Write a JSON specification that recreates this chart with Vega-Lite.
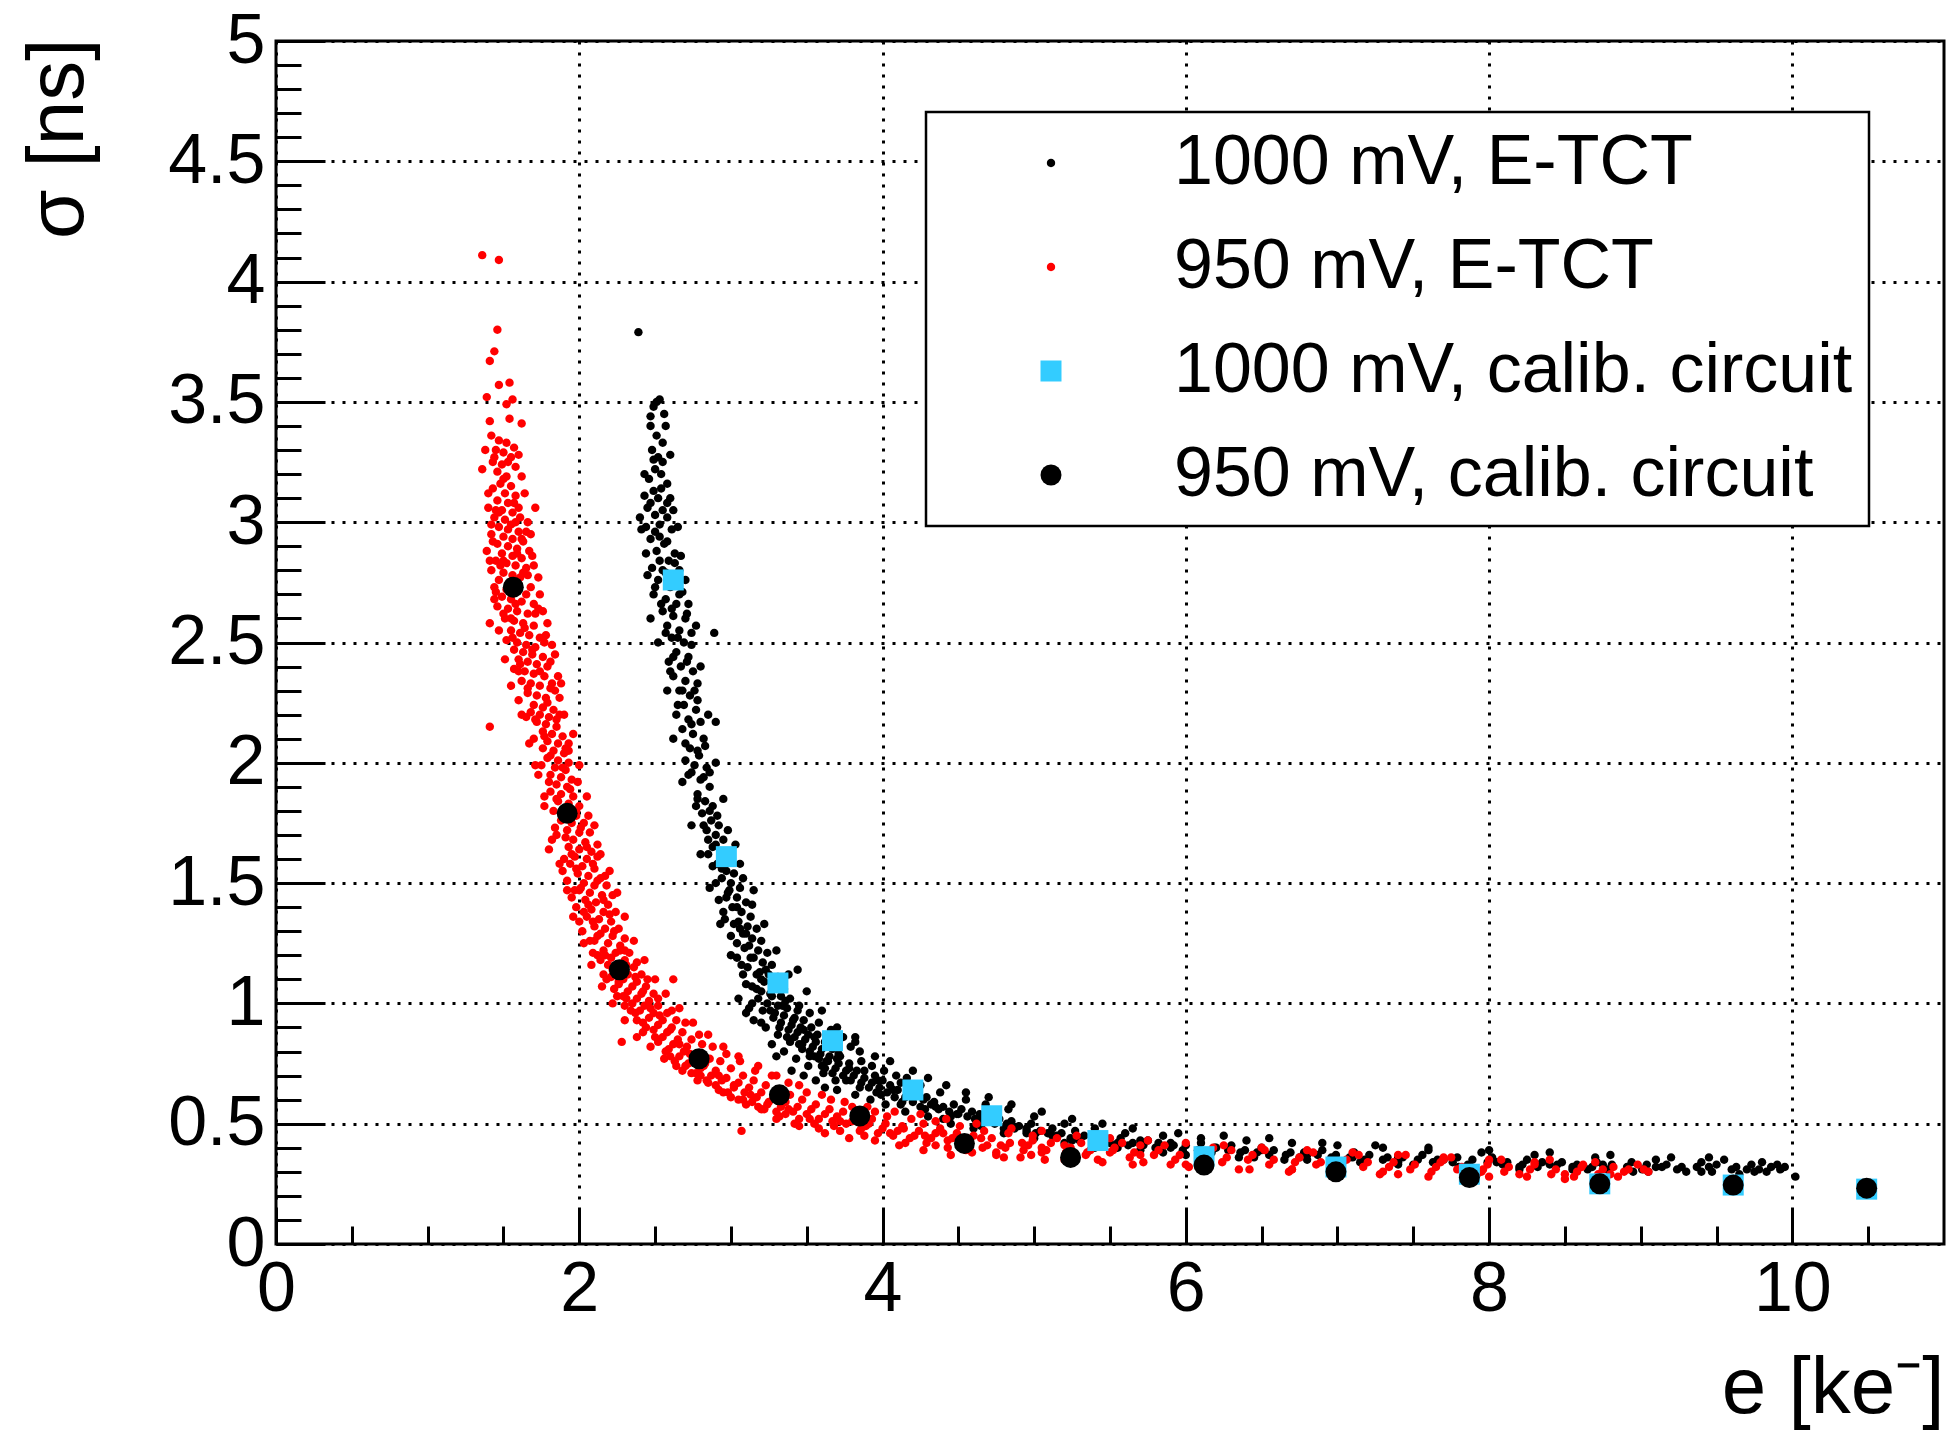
{
  "$schema": "https://vega.github.io/schema/vega-lite/v6.json",
  "width": 1668,
  "height": 1203,
  "autosize": "none",
  "padding": {"left": 276, "top": 41, "right": 15, "bottom": 195},
  "background": "white",
  "datasets": {
    "etct1000": [
      {"e":2.39,"s":3.79},{"e":2.53,"s":3.51},{"e":2.49,"s":3.48},{"e":2.56,"s":3.45},{"e":2.47,"s":3.40},{"e":2.51,"s":3.36},{"e":2.55,"s":3.33},{"e":2.48,"s":3.30},{"e":2.52,"s":3.27},{"e":2.50,"s":3.22},
      {"e":2.46,"s":3.18},{"e":2.54,"s":3.20},{"e":2.58,"s":3.16},{"e":2.49,"s":3.13},{"e":2.52,"s":3.10},{"e":2.45,"s":3.06},{"e":2.55,"s":3.05},{"e":2.50,"s":3.03},{"e":2.58,"s":3.02},{"e":2.44,"s":2.98},
      {"e":2.53,"s":2.99},{"e":2.61,"s":2.97},{"e":2.47,"s":2.93},{"e":2.56,"s":2.91},{"e":2.51,"s":2.88},{"e":2.63,"s":2.87},{"e":2.59,"s":2.84},{"e":2.48,"s":2.81},{"e":2.55,"s":2.80},{"e":2.66,"s":2.80},
      {"e":2.52,"s":2.76},{"e":2.60,"s":2.73},{"e":2.68,"s":2.71},{"e":2.49,"s":2.70},{"e":2.57,"s":2.68},{"e":2.64,"s":2.66},{"e":2.55,"s":2.63},{"e":2.62,"s":2.61},{"e":2.70,"s":2.60},{"e":2.58,"s":2.57},
      {"e":2.66,"s":2.55},{"e":2.74,"s":2.54},{"e":2.61,"s":2.52},{"e":2.69,"s":2.50},{"e":2.64,"s":2.46},{"e":2.72,"s":2.44},{"e":2.67,"s":2.40},{"e":2.75,"s":2.38},{"e":2.62,"s":2.36},{"e":2.70,"s":2.34},
      {"e":2.78,"s":2.33},{"e":2.66,"s":2.30},{"e":2.73,"s":2.28},{"e":2.69,"s":2.24},{"e":2.77,"s":2.22},{"e":2.72,"s":2.18},{"e":2.80,"s":2.17},{"e":2.68,"s":2.14},{"e":2.75,"s":2.12},{"e":2.82,"s":2.10},
      {"e":2.73,"s":2.06},{"e":2.79,"s":2.03},{"e":2.76,"s":1.99},{"e":2.84,"s":1.98},{"e":2.72,"s":1.95},{"e":2.80,"s":1.93},{"e":2.86,"s":1.90},{"e":2.78,"s":1.87},{"e":2.83,"s":1.84},{"e":2.88,"s":1.82},
      {"e":2.81,"s":1.79},{"e":2.87,"s":1.76},{"e":2.92,"s":1.74},{"e":2.84,"s":1.72},{"e":2.90,"s":1.70},{"e":2.95,"s":1.68},{"e":2.88,"s":1.65},{"e":2.93,"s":1.63},{"e":2.99,"s":1.60},{"e":2.91,"s":1.58},
      {"e":2.97,"s":1.55},{"e":3.02,"s":1.54},{"e":2.94,"s":1.52},{"e":3.00,"s":1.50},{"e":3.06,"s":1.48},{"e":2.98,"s":1.46},{"e":3.04,"s":1.44},{"e":3.10,"s":1.42},{"e":3.01,"s":1.40},{"e":3.07,"s":1.38},
      {"e":3.13,"s":1.36},{"e":3.05,"s":1.34},{"e":3.11,"s":1.32},{"e":3.17,"s":1.31},{"e":3.08,"s":1.29},{"e":3.14,"s":1.27},{"e":3.20,"s":1.26},{"e":3.12,"s":1.24},{"e":3.18,"s":1.22},{"e":3.24,"s":1.21},
      {"e":3.15,"s":1.19},{"e":3.21,"s":1.17},{"e":3.27,"s":1.16},{"e":3.11,"s":1.15},{"e":3.19,"s":1.13},{"e":3.25,"s":1.12},{"e":3.31,"s":1.11},{"e":3.22,"s":1.09},{"e":3.29,"s":1.07},{"e":3.35,"s":1.06},
      {"e":3.17,"s":1.06},{"e":3.26,"s":1.04},{"e":3.33,"s":1.03},{"e":3.39,"s":1.02},{"e":3.24,"s":1.00},{"e":3.31,"s":0.99},{"e":3.37,"s":0.98},{"e":3.44,"s":0.97},{"e":3.29,"s":0.96},{"e":3.35,"s":0.95},
      {"e":3.42,"s":0.94},{"e":3.48,"s":0.93},{"e":3.33,"s":0.92},{"e":3.40,"s":0.91},{"e":3.46,"s":0.90},{"e":3.53,"s":0.90},{"e":3.38,"s":0.89},{"e":3.44,"s":0.88},{"e":3.51,"s":0.87},{"e":3.57,"s":0.87},
      {"e":3.42,"s":0.86},{"e":3.49,"s":0.85},{"e":3.56,"s":0.84},{"e":3.62,"s":0.84},{"e":3.47,"s":0.83},{"e":3.54,"s":0.82},{"e":3.60,"s":0.81},{"e":3.67,"s":0.81},{"e":3.52,"s":0.80},{"e":3.59,"s":0.79},
      {"e":3.65,"s":0.78},{"e":3.72,"s":0.78},{"e":3.58,"s":0.77},{"e":3.64,"s":0.76},{"e":3.71,"s":0.75},{"e":3.78,"s":0.75},{"e":3.62,"s":0.73},{"e":3.69,"s":0.73},{"e":3.76,"s":0.72},{"e":3.83,"s":0.72},
      {"e":3.74,"s":0.70},{"e":3.81,"s":0.70},{"e":3.88,"s":0.69},{"e":3.95,"s":0.70},{"e":3.79,"s":0.68},{"e":3.86,"s":0.67},{"e":3.93,"s":0.67},{"e":4.00,"s":0.68},{"e":3.91,"s":0.65},{"e":3.98,"s":0.65},
      {"e":4.05,"s":0.66},{"e":4.12,"s":0.67},{"e":3.96,"s":0.63},{"e":4.03,"s":0.63},{"e":4.10,"s":0.64},{"e":4.17,"s":0.63},{"e":4.08,"s":0.61},{"e":4.15,"s":0.61},{"e":4.22,"s":0.62},{"e":4.29,"s":0.61},
      {"e":4.13,"s":0.59},{"e":4.20,"s":0.59},{"e":4.27,"s":0.60},{"e":4.34,"s":0.59},{"e":4.25,"s":0.57},{"e":4.32,"s":0.58},{"e":4.40,"s":0.57},{"e":4.47,"s":0.58},{"e":4.37,"s":0.56},{"e":4.44,"s":0.55},
      {"e":4.52,"s":0.56},{"e":4.59,"s":0.55},{"e":4.49,"s":0.54},{"e":4.56,"s":0.53},{"e":4.64,"s":0.54},{"e":4.71,"s":0.53},{"e":4.61,"s":0.52},{"e":4.69,"s":0.51},{"e":4.77,"s":0.52},{"e":4.85,"s":0.51},
      {"e":4.74,"s":0.50},{"e":4.82,"s":0.50},{"e":4.90,"s":0.49},{"e":4.98,"s":0.50},{"e":4.87,"s":0.48},{"e":4.95,"s":0.48},{"e":5.04,"s":0.47},{"e":5.12,"s":0.48},{"e":5.01,"s":0.46},{"e":5.09,"s":0.46},
      {"e":5.18,"s":0.46},{"e":5.27,"s":0.47},{"e":5.15,"s":0.45},{"e":5.24,"s":0.44},{"e":5.33,"s":0.45},{"e":5.42,"s":0.44},{"e":5.30,"s":0.43},{"e":5.39,"s":0.43},{"e":5.48,"s":0.43},{"e":5.57,"s":0.44},
      {"e":5.45,"s":0.42},{"e":5.55,"s":0.42},{"e":5.65,"s":0.42},{"e":5.75,"s":0.43},{"e":5.62,"s":0.41},{"e":5.72,"s":0.41},{"e":5.82,"s":0.42},{"e":5.92,"s":0.41},{"e":5.80,"s":0.40},{"e":5.90,"s":0.40},
      {"e":6.00,"s":0.41},{"e":6.10,"s":0.42},{"e":5.98,"s":0.39},{"e":6.08,"s":0.39},{"e":6.19,"s":0.40},{"e":6.30,"s":0.41},{"e":6.17,"s":0.38},{"e":6.28,"s":0.39},{"e":6.39,"s":0.39},{"e":6.50,"s":0.40},
      {"e":6.36,"s":0.38},{"e":6.47,"s":0.38},{"e":6.58,"s":0.39},{"e":6.69,"s":0.38},{"e":6.55,"s":0.37},{"e":6.66,"s":0.37},{"e":6.78,"s":0.38},{"e":6.90,"s":0.39},{"e":6.75,"s":0.36},{"e":6.87,"s":0.37},
      {"e":6.99,"s":0.37},{"e":7.11,"s":0.38},{"e":6.96,"s":0.36},{"e":7.08,"s":0.36},{"e":7.21,"s":0.37},{"e":7.33,"s":0.36},{"e":7.18,"s":0.35},{"e":7.30,"s":0.35},{"e":7.43,"s":0.36},{"e":7.56,"s":0.37},
      {"e":7.40,"s":0.34},{"e":7.53,"s":0.35},{"e":7.66,"s":0.35},{"e":7.79,"s":0.36},{"e":7.63,"s":0.34},{"e":7.76,"s":0.34},{"e":7.89,"s":0.35},{"e":8.02,"s":0.36},{"e":7.86,"s":0.33},{"e":7.99,"s":0.34},
      {"e":8.12,"s":0.34},{"e":8.25,"s":0.35},{"e":8.09,"s":0.33},{"e":8.22,"s":0.33},{"e":8.35,"s":0.34},{"e":8.48,"s":0.34},{"e":8.32,"s":0.32},{"e":8.45,"s":0.33},{"e":8.58,"s":0.33},{"e":8.71,"s":0.34},
      {"e":8.55,"s":0.32},{"e":8.68,"s":0.32},{"e":8.81,"s":0.33},{"e":8.94,"s":0.34},{"e":8.78,"s":0.31},{"e":8.91,"s":0.32},{"e":9.04,"s":0.33},{"e":9.17,"s":0.33},{"e":9.01,"s":0.31},{"e":9.14,"s":0.32},
      {"e":9.27,"s":0.32},{"e":9.40,"s":0.34},{"e":9.24,"s":0.31},{"e":9.37,"s":0.32},{"e":9.50,"s":0.33},{"e":9.63,"s":0.32},{"e":9.47,"s":0.30},{"e":9.60,"s":0.31},{"e":9.73,"s":0.33},{"e":9.86,"s":0.32},
      {"e":9.70,"s":0.31},{"e":9.83,"s":0.30},{"e":9.95,"s":0.32},{"e":10.02,"s":0.28},
      {"e":2.41,"s":2.97},{"e":2.89,"s":2.54},{"e":2.90,"s":2.17},{"e":3.44,"s":1.14},{"e":3.82,"s":0.86},{"e":3.10,"s":0.96},{"e":3.62,"s":0.65},
      {"e":3.05,"s":1.02},{"e":3.12,"s":0.98},{"e":3.20,"s":1.05},{"e":3.28,"s":0.94},{"e":3.36,"s":1.01},{"e":3.45,"s":0.99},{"e":3.52,"s":0.96},{"e":3.15,"s":0.93},{"e":3.23,"s":0.90},{"e":3.31,"s":0.87},
      {"e":3.39,"s":0.84},{"e":3.47,"s":0.81},{"e":3.55,"s":0.78},{"e":3.63,"s":0.76},{"e":3.71,"s":0.79},{"e":3.79,"s":0.82},{"e":3.58,"s":0.92},{"e":3.66,"s":0.89},{"e":3.74,"s":0.86},{"e":3.82,"s":0.84},
      {"e":3.27,"s":0.83},{"e":3.35,"s":0.80},{"e":3.43,"s":0.77},{"e":3.51,"s":0.74},{"e":3.61,"s":0.71},{"e":3.69,"s":0.68},{"e":3.86,"s":0.76},{"e":3.93,"s":0.74},{"e":4.01,"s":0.72},{"e":4.09,"s":0.70},
      {"e":4.16,"s":0.69},{"e":3.21,"s":0.97},{"e":3.10,"s":1.08},{"e":3.17,"s":1.12},{"e":3.04,"s":1.19},{"e":3.09,"s":1.23},{"e":3.23,"s":1.14},{"e":3.00,"s":1.28},{"e":3.06,"s":1.31},{"e":2.96,"s":1.35},
      {"e":3.14,"s":1.41},{"e":2.92,"s":1.43},{"e":2.99,"s":1.47},{"e":3.08,"s":1.52},{"e":2.88,"s":1.57},{"e":2.95,"s":1.62},{"e":3.03,"s":1.66},{"e":2.85,"s":1.68},{"e":2.91,"s":1.78},{"e":2.77,"s":1.82},
      {"e":2.86,"s":1.96},{"e":2.70,"s":2.01},{"e":2.83,"s":2.07},{"e":2.64,"s":2.20},{"e":2.78,"s":2.26},{"e":2.59,"s":2.42},{"e":2.74,"s":2.49},{"e":2.57,"s":2.79},{"e":2.67,"s":2.86},{"e":2.44,"s":2.87},
      {"e":2.53,"s":2.94},{"e":2.58,"s":3.08},{"e":2.43,"s":3.11},{"e":2.55,"s":3.25},{"e":2.47,"s":3.44},{"e":2.51,"s":3.50},
      {"e":4.25,"s":0.66},{"e":4.38,"s":0.63},{"e":4.55,"s":0.60},{"e":4.68,"s":0.58},{"e":4.83,"s":0.56},{"e":5.00,"s":0.53},{"e":5.20,"s":0.50},{"e":5.40,"s":0.48},{"e":5.60,"s":0.46},{"e":5.85,"s":0.45},
      {"e":6.10,"s":0.44},{"e":6.40,"s":0.43},{"e":6.70,"s":0.42},{"e":7.00,"s":0.41},{"e":7.30,"s":0.40},{"e":7.60,"s":0.39},{"e":7.95,"s":0.38},{"e":8.30,"s":0.37},{"e":8.70,"s":0.36},{"e":9.10,"s":0.35},
      {"e":9.45,"s":0.36},{"e":4.40,"s":0.52},{"e":4.65,"s":0.49},{"e":4.95,"s":0.46},{"e":5.25,"s":0.43},{"e":5.55,"s":0.40},{"e":5.85,"s":0.38},{"e":6.15,"s":0.37},{"e":6.45,"s":0.36},{"e":6.80,"s":0.35},
      {"e":7.15,"s":0.34},{"e":7.50,"s":0.33},{"e":7.85,"s":0.32},{"e":8.20,"s":0.31},{"e":8.55,"s":0.31},{"e":8.95,"s":0.30},{"e":9.30,"s":0.30},{"e":9.65,"s":0.29},{"e":9.90,"s":0.33},
      {"e":2.40,"s":3.02},{"e":2.62,"s":3.05},{"e":2.65,"s":2.98},{"e":2.43,"s":3.20},{"e":2.60,"s":3.28},{"e":2.57,"s":3.40},{"e":2.45,"s":2.78},{"e":2.70,"s":2.76},{"e":2.72,"s":2.66},{"e":2.47,"s":2.60},
      {"e":2.52,"s":2.50},{"e":2.77,"s":2.57},{"e":2.58,"s":2.30},{"e":2.80,"s":2.40},{"e":2.62,"s":2.10},{"e":2.85,"s":2.20},{"e":2.68,"s":1.92},{"e":2.90,"s":2.00},{"e":2.74,"s":1.74},{"e":2.95,"s":1.85},
      {"e":2.80,"s":1.62},{"e":2.98,"s":1.72},{"e":2.86,"s":1.48},{"e":3.06,"s":1.58},{"e":2.93,"s":1.33},{"e":3.15,"s":1.47},{"e":3.00,"s":1.20},{"e":3.22,"s":1.33},{"e":3.08,"s":1.12},{"e":3.30,"s":1.22},
      {"e":3.14,"s":1.00},{"e":3.38,"s":1.12},{"e":3.20,"s":0.92},{"e":3.50,"s":1.05},{"e":3.30,"s":0.78},{"e":3.60,"s":0.97},{"e":3.40,"s":0.72},{"e":3.70,"s":0.90},{"e":3.48,"s":0.70},{"e":3.85,"s":0.80},
      {"e":3.56,"s":0.68},{"e":3.95,"s":0.78},{"e":3.70,"s":0.64},{"e":4.05,"s":0.76},{"e":3.82,"s":0.62},{"e":4.20,"s":0.72},{"e":3.92,"s":0.60},{"e":4.30,"s":0.69},{"e":4.02,"s":0.58},{"e":4.42,"s":0.66},
      {"e":4.15,"s":0.55},{"e":4.55,"s":0.63},{"e":4.30,"s":0.53},{"e":4.70,"s":0.61},{"e":4.45,"s":0.50},{"e":4.85,"s":0.58},{"e":4.60,"s":0.48},{"e":5.05,"s":0.55},{"e":4.80,"s":0.46},{"e":5.25,"s":0.52},
      {"e":5.00,"s":0.44},{"e":5.45,"s":0.50},{"e":5.20,"s":0.42},{"e":5.65,"s":0.48},{"e":5.40,"s":0.40},{"e":5.95,"s":0.46},{"e":5.70,"s":0.39},{"e":6.25,"s":0.45},{"e":6.00,"s":0.37},{"e":6.55,"s":0.44},
      {"e":6.35,"s":0.36},{"e":6.90,"s":0.42},{"e":6.65,"s":0.35},{"e":7.25,"s":0.41},{"e":7.00,"s":0.34},{"e":7.60,"s":0.40},{"e":7.40,"s":0.33},{"e":8.00,"s":0.39},{"e":7.80,"s":0.32},{"e":8.40,"s":0.38},
      {"e":8.20,"s":0.32},{"e":8.80,"s":0.37},{"e":8.65,"s":0.31},{"e":9.20,"s":0.36},{"e":9.05,"s":0.30},{"e":9.55,"s":0.35},{"e":9.40,"s":0.30},{"e":9.80,"s":0.34},{"e":9.75,"s":0.30},{"e":9.92,"s":0.31},
      {"e":2.49,"s":3.26},{"e":2.54,"s":3.14},{"e":2.47,"s":3.08},{"e":2.60,"s":3.10},{"e":2.50,"s":2.96},{"e":2.58,"s":2.92},{"e":2.63,"s":2.83},{"e":2.53,"s":2.84},{"e":2.60,"s":2.78},{"e":2.50,"s":2.73},
      {"e":2.66,"s":2.70},{"e":2.54,"s":2.66},{"e":2.61,"s":2.64},{"e":2.71,"s":2.62},{"e":2.57,"s":2.54},{"e":2.65,"s":2.52},{"e":2.62,"s":2.44},{"e":2.71,"s":2.42},{"e":2.60,"s":2.38},{"e":2.68,"s":2.30},
      {"e":2.76,"s":2.30},{"e":2.65,"s":2.24},{"e":2.74,"s":2.16},{"e":2.70,"s":2.08},{"e":2.78,"s":2.05},{"e":2.74,"s":1.96},{"e":2.82,"s":1.94},{"e":2.78,"s":1.85},{"e":2.86,"s":1.80},{"e":2.82,"s":1.74},
      {"e":2.90,"s":1.66},{"e":2.85,"s":1.62},{"e":2.94,"s":1.56},{"e":2.90,"s":1.50},{"e":2.97,"s":1.44},{"e":3.04,"s":1.40},{"e":2.95,"s":1.38},{"e":3.02,"s":1.33},{"e":3.10,"s":1.29},{"e":3.04,"s":1.25},
      {"e":3.13,"s":1.19},{"e":3.07,"s":1.16},{"e":3.20,"s":1.10},{"e":3.14,"s":1.07},{"e":3.27,"s":1.03},{"e":3.18,"s":1.02},{"e":3.34,"s":0.99},{"e":3.26,"s":0.97},{"e":3.41,"s":0.93},{"e":3.32,"s":0.90},
      {"e":3.48,"s":0.89},{"e":3.37,"s":0.86},{"e":3.55,"s":0.86},{"e":3.45,"s":0.83},{"e":3.63,"s":0.82},{"e":3.52,"s":0.78},{"e":3.70,"s":0.77},{"e":3.60,"s":0.74},{"e":3.78,"s":0.73},{"e":3.67,"s":0.71},
      {"e":3.88,"s":0.72},{"e":3.76,"s":0.68},{"e":3.97,"s":0.68},{"e":3.85,"s":0.65},{"e":4.07,"s":0.64},{"e":3.99,"s":0.62},{"e":4.20,"s":0.61},{"e":4.12,"s":0.58},{"e":4.35,"s":0.57},{"e":4.28,"s":0.56},
      {"e":4.50,"s":0.54},{"e":4.45,"s":0.53},{"e":4.66,"s":0.52},{"e":4.62,"s":0.50},{"e":4.80,"s":0.48},{"e":4.95,"s":0.47},{"e":5.12,"s":0.45},{"e":5.30,"s":0.44},{"e":5.50,"s":0.42},{"e":5.70,"s":0.43},
      {"e":5.90,"s":0.42},{"e":6.20,"s":0.40},{"e":6.50,"s":0.39},{"e":6.80,"s":0.37},{"e":7.10,"s":0.36},{"e":7.40,"s":0.36},{"e":7.70,"s":0.35},{"e":8.05,"s":0.34},{"e":8.40,"s":0.33},{"e":8.75,"s":0.33},
      {"e":9.10,"s":0.32},{"e":9.45,"s":0.32},{"e":9.78,"s":0.31}
    ],
    "etct950": [
      {"e":1.36,"s":4.11},{"e":1.47,"s":4.09},{"e":1.46,"s":3.80},{"e":1.44,"s":3.71},{"e":1.41,"s":3.67},{"e":1.47,"s":3.57},{"e":1.54,"s":3.58},{"e":1.39,"s":3.52},{"e":1.52,"s":3.49},{"e":1.56,"s":3.51},
      {"e":1.41,"s":3.42},{"e":1.54,"s":3.43},{"e":1.62,"s":3.41},
      {"e":1.47,"s":3.34},{"e":1.52,"s":3.33},{"e":1.45,"s":3.30},{"e":1.50,"s":3.29},{"e":1.55,"s":3.27},{"e":1.43,"s":3.25},{"e":1.49,"s":3.24},{"e":1.58,"s":3.23},{"e":1.36,"s":3.22},{"e":1.46,"s":3.21},
      {"e":1.52,"s":3.19},{"e":1.62,"s":3.19},{"e":1.48,"s":3.16},{"e":1.55,"s":3.15},{"e":1.43,"s":3.14},{"e":1.51,"s":3.12},{"e":1.58,"s":3.11},{"e":1.46,"s":3.09},{"e":1.53,"s":3.08},{"e":1.71,"s":3.06},
      {"e":1.40,"s":3.06},{"e":1.49,"s":3.05},{"e":1.56,"s":3.04},{"e":1.61,"s":3.02},{"e":1.44,"s":3.02},{"e":1.51,"s":3.01},{"e":1.58,"s":3.00},{"e":1.66,"s":3.00},
      {"e":1.47,"s":2.98},{"e":1.53,"s":2.97},{"e":1.60,"s":2.96},{"e":1.42,"s":2.95},{"e":1.50,"s":2.94},{"e":1.56,"s":2.93},{"e":1.63,"s":2.92},{"e":1.46,"s":2.91},{"e":1.53,"s":2.90},{"e":1.59,"s":2.89},
      {"e":1.67,"s":2.88},{"e":1.39,"s":2.88},{"e":1.49,"s":2.87},{"e":1.56,"s":2.86},{"e":1.62,"s":2.85},{"e":1.45,"s":2.84},{"e":1.52,"s":2.83},{"e":1.58,"s":2.82},{"e":1.65,"s":2.81},{"e":1.42,"s":2.80},
      {"e":1.50,"s":2.79},{"e":1.56,"s":2.78},{"e":1.61,"s":2.77},{"e":1.73,"s":2.77},{"e":1.47,"s":2.76},{"e":1.54,"s":2.75},{"e":1.60,"s":2.74},{"e":1.44,"s":2.73},{"e":1.52,"s":2.72},{"e":1.58,"s":2.71},
      {"e":1.65,"s":2.70},
      {"e":1.49,"s":2.69},{"e":1.55,"s":2.68},{"e":1.62,"s":2.67},{"e":1.70,"s":2.66},{"e":1.46,"s":2.65},{"e":1.53,"s":2.64},{"e":1.59,"s":2.63},{"e":1.66,"s":2.62},{"e":1.76,"s":2.63},{"e":1.51,"s":2.60},
      {"e":1.57,"s":2.59},{"e":1.63,"s":2.58},{"e":1.70,"s":2.57},{"e":1.41,"s":2.58},{"e":1.55,"s":2.55},{"e":1.61,"s":2.54},{"e":1.67,"s":2.53},{"e":1.74,"s":2.52},{"e":1.52,"s":2.51},{"e":1.59,"s":2.50},
      {"e":1.65,"s":2.49},{"e":1.71,"s":2.48},{"e":1.82,"s":2.49},{"e":1.57,"s":2.47},{"e":1.63,"s":2.46},{"e":1.69,"s":2.45},{"e":1.76,"s":2.44},
      {"e":1.60,"s":2.43},{"e":1.66,"s":2.42},{"e":1.72,"s":2.41},{"e":1.79,"s":2.40},{"e":1.57,"s":2.39},{"e":1.64,"s":2.38},{"e":1.70,"s":2.37},{"e":1.77,"s":2.36},{"e":1.86,"s":2.36},{"e":1.62,"s":2.34},
      {"e":1.68,"s":2.33},{"e":1.74,"s":2.32},{"e":1.81,"s":2.31},{"e":1.66,"s":2.29},{"e":1.72,"s":2.28},{"e":1.78,"s":2.27},{"e":1.87,"s":2.27},{"e":1.60,"s":2.26},{"e":1.70,"s":2.24},{"e":1.76,"s":2.23},
      {"e":1.83,"s":2.22},{"e":1.68,"s":2.21},{"e":1.74,"s":2.20},{"e":1.80,"s":2.19},{"e":1.41,"s":2.15},
      {"e":1.72,"s":2.17},{"e":1.78,"s":2.16},{"e":1.85,"s":2.15},{"e":1.76,"s":2.13},{"e":1.82,"s":2.12},{"e":1.89,"s":2.11},{"e":1.70,"s":2.10},{"e":1.79,"s":2.09},{"e":1.86,"s":2.08},{"e":1.93,"s":2.08},
      {"e":1.76,"s":2.06},{"e":1.83,"s":2.05},{"e":1.90,"s":2.04},{"e":1.79,"s":2.02},{"e":1.86,"s":2.01},{"e":1.93,"s":2.00},{"e":1.75,"s":1.99},{"e":1.84,"s":1.98},{"e":1.91,"s":1.97},{"e":1.81,"s":1.95},
      {"e":1.88,"s":1.94},{"e":1.95,"s":1.93},{"e":1.85,"s":1.91},{"e":1.92,"s":1.90},
      {"e":1.81,"s":1.88},{"e":1.88,"s":1.87},{"e":1.96,"s":1.86},{"e":1.86,"s":1.84},{"e":1.93,"s":1.83},{"e":2.00,"s":1.82},{"e":1.83,"s":1.80},{"e":1.90,"s":1.79},{"e":1.98,"s":1.78},{"e":1.88,"s":1.76},
      {"e":1.95,"s":1.75},{"e":2.03,"s":1.75},{"e":1.92,"s":1.72},{"e":2.00,"s":1.71},{"e":2.07,"s":1.71},{"e":1.85,"s":1.70},{"e":1.96,"s":1.68},{"e":2.04,"s":1.67},{"e":1.93,"s":1.65},{"e":2.00,"s":1.64},
      {"e":2.08,"s":1.63},{"e":1.80,"s":1.64},{"e":1.97,"s":1.61},{"e":2.05,"s":1.60},{"e":2.12,"s":1.61},
      {"e":1.94,"s":1.58},{"e":2.02,"s":1.57},{"e":2.10,"s":1.56},{"e":1.99,"s":1.54},{"e":2.06,"s":1.53},{"e":2.14,"s":1.52},{"e":1.92,"s":1.51},{"e":2.03,"s":1.50},{"e":2.10,"s":1.49},{"e":2.18,"s":1.49},
      {"e":2.00,"s":1.47},{"e":2.07,"s":1.46},{"e":2.15,"s":1.45},{"e":2.04,"s":1.43},{"e":2.11,"s":1.42},{"e":2.19,"s":1.41},{"e":1.98,"s":1.40},{"e":2.08,"s":1.39},{"e":2.16,"s":1.38},{"e":2.24,"s":1.38},
      {"e":2.05,"s":1.36},{"e":2.13,"s":1.35},{"e":2.21,"s":1.34},{"e":2.10,"s":1.32},{"e":2.17,"s":1.31},{"e":2.26,"s":1.31},{"e":2.02,"s":1.30},
      {"e":2.14,"s":1.29},{"e":2.22,"s":1.28},{"e":2.30,"s":1.27},{"e":2.10,"s":1.26},{"e":2.19,"s":1.25},{"e":2.27,"s":1.24},{"e":2.16,"s":1.22},{"e":2.24,"s":1.21},{"e":2.33,"s":1.21},{"e":2.12,"s":1.20},
      {"e":2.21,"s":1.19},{"e":2.30,"s":1.18},{"e":2.19,"s":1.16},{"e":2.27,"s":1.15},{"e":2.36,"s":1.15},{"e":2.24,"s":1.13},{"e":2.32,"s":1.12},{"e":2.41,"s":1.12},{"e":2.21,"s":1.11},{"e":2.29,"s":1.10},
      {"e":2.38,"s":1.09},{"e":2.62,"s":1.10},{"e":2.26,"s":1.08},{"e":2.35,"s":1.07},{"e":2.44,"s":1.07},{"e":2.32,"s":1.05},{"e":2.41,"s":1.04},{"e":2.49,"s":1.04},{"e":2.29,"s":1.03},{"e":2.38,"s":1.02},
      {"e":2.46,"s":1.01},{"e":2.35,"s":1.00},
      {"e":2.43,"s":0.99},{"e":2.52,"s":0.99},{"e":2.40,"s":0.97},{"e":2.49,"s":0.96},{"e":2.58,"s":0.96},{"e":2.46,"s":0.94},{"e":2.55,"s":0.93},{"e":2.64,"s":0.93},{"e":2.42,"s":0.92},{"e":2.52,"s":0.91},
      {"e":2.61,"s":0.90},{"e":2.49,"s":0.89},{"e":2.58,"s":0.88},{"e":2.68,"s":0.88},{"e":2.55,"s":0.86},{"e":2.65,"s":0.85},{"e":2.74,"s":0.85},{"e":2.28,"s":0.84},{"e":2.52,"s":0.84},{"e":2.62,"s":0.83},
      {"e":2.71,"s":0.82},{"e":2.81,"s":0.83},{"e":2.59,"s":0.81},{"e":2.69,"s":0.80},{"e":2.78,"s":0.79},{"e":2.66,"s":0.78},{"e":2.75,"s":0.77},{"e":2.86,"s":0.77},{"e":2.72,"s":0.75},{"e":2.83,"s":0.75},
      {"e":2.93,"s":0.76},{"e":2.64,"s":0.74},
      {"e":2.80,"s":0.73},{"e":2.90,"s":0.72},{"e":3.00,"s":0.73},{"e":2.77,"s":0.71},{"e":2.87,"s":0.70},{"e":2.97,"s":0.69},{"e":3.08,"s":0.70},{"e":2.94,"s":0.68},{"e":3.05,"s":0.67},{"e":3.15,"s":0.68},
      {"e":2.85,"s":0.67},{"e":3.02,"s":0.65},{"e":3.12,"s":0.65},{"e":3.23,"s":0.66},{"e":3.09,"s":0.63},{"e":3.20,"s":0.63},{"e":3.31,"s":0.64},{"e":2.98,"s":0.63},{"e":3.17,"s":0.61},{"e":3.28,"s":0.61},
      {"e":3.39,"s":0.62},{"e":3.07,"s":0.47},{"e":3.25,"s":0.59},{"e":3.36,"s":0.59},{"e":3.47,"s":0.60},{"e":3.14,"s":0.59},{"e":3.33,"s":0.57},{"e":3.44,"s":0.57},{"e":3.56,"s":0.58},{"e":3.41,"s":0.55},
      {"e":3.53,"s":0.56},{"e":3.65,"s":0.56},{"e":3.30,"s":0.55},{"e":3.50,"s":0.54},{"e":3.62,"s":0.54},{"e":3.74,"s":0.55},{"e":3.58,"s":0.52},{"e":3.70,"s":0.53},{"e":3.82,"s":0.53},{"e":3.45,"s":0.52},
      {"e":3.67,"s":0.51},{"e":3.80,"s":0.51},{"e":3.93,"s":0.52},{"e":3.76,"s":0.50},{"e":3.89,"s":0.49},{"e":4.02,"s":0.50},{"e":3.86,"s":0.48},{"e":4.00,"s":0.48},{"e":4.13,"s":0.49},{"e":4.27,"s":0.50},
      {"e":3.97,"s":0.46},{"e":4.10,"s":0.47},{"e":4.24,"s":0.47},{"e":4.38,"s":0.48},{"e":4.07,"s":0.45},{"e":4.21,"s":0.45},{"e":4.35,"s":0.46},{"e":4.49,"s":0.46},{"e":4.18,"s":0.44},{"e":4.32,"s":0.44},
      {"e":4.46,"s":0.44},{"e":4.60,"s":0.45},{"e":4.29,"s":0.42},{"e":4.43,"s":0.43},{"e":4.57,"s":0.43},{"e":4.72,"s":0.44},{"e":4.54,"s":0.42},{"e":4.69,"s":0.41},{"e":4.84,"s":0.42},{"e":4.99,"s":0.43},
      {"e":4.66,"s":0.40},{"e":4.81,"s":0.40},{"e":4.96,"s":0.41},{"e":5.11,"s":0.42},{"e":4.93,"s":0.39},{"e":5.08,"s":0.39},{"e":5.24,"s":0.40},{"e":5.40,"s":0.41},{"e":5.05,"s":0.38},{"e":5.21,"s":0.38},
      {"e":5.37,"s":0.39},{"e":5.53,"s":0.40},{"e":5.34,"s":0.37},{"e":5.50,"s":0.38},{"e":5.66,"s":0.38},{"e":5.82,"s":0.39},{"e":4.45,"s":0.37},{"e":4.80,"s":0.36},
      {"e":5.63,"s":0.36},{"e":5.79,"s":0.37},{"e":5.96,"s":0.37},{"e":6.13,"s":0.38},{"e":5.93,"s":0.35},{"e":6.10,"s":0.36},{"e":6.27,"s":0.36},{"e":6.44,"s":0.37},{"e":6.24,"s":0.34},{"e":6.41,"s":0.35},
      {"e":6.58,"s":0.35},{"e":6.75,"s":0.36},{"e":6.55,"s":0.33},{"e":6.72,"s":0.34},{"e":6.89,"s":0.34},{"e":7.06,"s":0.35},{"e":6.86,"s":0.33},{"e":7.03,"s":0.33},{"e":7.20,"s":0.34},{"e":7.37,"s":0.34},
      {"e":7.17,"s":0.32},{"e":7.34,"s":0.32},{"e":7.51,"s":0.33},{"e":7.68,"s":0.34},{"e":7.48,"s":0.31},{"e":7.65,"s":0.32},{"e":7.82,"s":0.32},{"e":7.99,"s":0.33},{"e":7.79,"s":0.31},{"e":7.96,"s":0.31},
      {"e":8.13,"s":0.32},{"e":8.30,"s":0.33},{"e":8.10,"s":0.30},{"e":8.27,"s":0.31},{"e":8.44,"s":0.31},{"e":8.61,"s":0.32},{"e":8.41,"s":0.29},{"e":8.58,"s":0.30},{"e":8.75,"s":0.31},{"e":8.92,"s":0.31},
      {"e":8.72,"s":0.29},{"e":8.89,"s":0.30},{"e":9.05,"s":0.30},{"e":6.00,"s":0.33},{"e":6.70,"s":0.31},{"e":7.40,"s":0.29},{"e":8.00,"s":0.28},{"e":8.50,"s":0.27},{"e":7.70,"s":0.36},{"e":6.30,"s":0.39},
      {"e":5.70,"s":0.41},
      {"e":3.50,"s":0.63},{"e":3.58,"s":0.48},{"e":3.66,"s":0.60},{"e":3.72,"s":0.47},{"e":3.80,"s":0.57},{"e":3.88,"s":0.45},{"e":3.95,"s":0.55},{"e":4.03,"s":0.53},{"e":4.11,"s":0.41},{"e":4.19,"s":0.52},
      {"e":4.27,"s":0.39},{"e":4.35,"s":0.51},{"e":4.43,"s":0.40},{"e":4.51,"s":0.49},{"e":4.59,"s":0.38},{"e":4.67,"s":0.47},{"e":4.75,"s":0.37},{"e":4.83,"s":0.46},{"e":4.91,"s":0.36},{"e":4.99,"s":0.45},
      {"e":5.07,"s":0.35},{"e":5.15,"s":0.44},{"e":5.23,"s":0.36},{"e":5.31,"s":0.42},{"e":5.45,"s":0.34},{"e":5.58,"s":0.42},{"e":5.72,"s":0.34},{"e":5.86,"s":0.41},{"e":6.02,"s":0.32},{"e":6.18,"s":0.40},
      {"e":6.35,"s":0.31},{"e":6.52,"s":0.39},{"e":6.68,"s":0.30},{"e":6.84,"s":0.38},{"e":7.00,"s":0.30},{"e":7.14,"s":0.37},{"e":7.28,"s":0.29},{"e":7.45,"s":0.37},{"e":7.60,"s":0.28},{"e":7.75,"s":0.36},
      {"e":7.92,"s":0.29},{"e":8.08,"s":0.35},{"e":8.25,"s":0.28},{"e":8.40,"s":0.35},{"e":8.56,"s":0.28},{"e":8.70,"s":0.34},{"e":8.85,"s":0.28},{"e":8.98,"s":0.33},
      {"e":2.38,"s":1.17},{"e":2.30,"s":1.22},{"e":2.45,"s":1.10},{"e":2.52,"s":1.02},{"e":2.61,"s":0.97},{"e":2.70,"s":0.92},{"e":2.79,"s":0.87},{"e":2.88,"s":0.82},{"e":2.97,"s":0.79},{"e":3.06,"s":0.76},
      {"e":3.16,"s":0.72},{"e":3.27,"s":0.70},{"e":3.38,"s":0.67},{"e":2.60,"s":0.78},{"e":2.70,"s":0.74},{"e":2.80,"s":0.70},{"e":2.90,"s":0.66},{"e":3.00,"s":0.61},{"e":3.10,"s":0.58},{"e":3.20,"s":0.56},
      {"e":3.32,"s":0.53},{"e":3.42,"s":0.50},{"e":2.18,"s":1.10},{"e":2.25,"s":1.03},{"e":2.34,"s":0.97},{"e":2.42,"s":0.88},{"e":2.14,"s":1.18},{"e":2.07,"s":1.26},{"e":2.00,"s":1.34},{"e":1.95,"s":1.44},
      {"e":1.89,"s":1.55},{"e":2.22,"s":1.45},{"e":2.17,"s":1.53},{"e":2.12,"s":1.66},{"e":2.06,"s":1.78},{"e":1.99,"s":1.92},{"e":1.93,"s":2.05},{"e":1.87,"s":2.20},{"e":1.82,"s":2.33},{"e":1.77,"s":2.50},
      {"e":1.71,"s":2.62},{"e":1.66,"s":2.78},{"e":1.62,"s":2.93},{"e":1.57,"s":3.08},{"e":1.53,"s":3.25},{"e":1.42,"s":3.36},{"e":1.45,"s":3.05},{"e":1.50,"s":2.84},{"e":1.55,"s":2.60},{"e":1.60,"s":2.38},
      {"e":1.65,"s":2.19},{"e":1.71,"s":1.99},{"e":1.77,"s":1.86},{"e":1.84,"s":1.73},{"e":1.90,"s":1.60},{"e":1.97,"s":1.47},{"e":2.03,"s":1.38},{"e":2.09,"s":1.21},{"e":2.16,"s":1.12},{"e":2.23,"s":1.06},
      {"e":2.30,"s":0.99},{"e":2.38,"s":0.93},
      {"e":1.38,"s":3.30},{"e":1.60,"s":3.28},{"e":1.40,"s":3.12},{"e":1.64,"s":3.12},{"e":1.42,"s":2.99},{"e":1.68,"s":2.95},{"e":1.41,"s":2.84},{"e":1.70,"s":2.82},{"e":1.44,"s":2.68},{"e":1.74,"s":2.70},
      {"e":1.47,"s":2.55},{"e":1.79,"s":2.58},{"e":1.51,"s":2.43},{"e":1.84,"s":2.45},{"e":1.55,"s":2.32},{"e":1.88,"s":2.33},{"e":1.62,"s":2.20},{"e":1.90,"s":2.20},{"e":1.67,"s":2.08},{"e":1.96,"s":2.12},
      {"e":1.73,"s":1.95},{"e":2.00,"s":1.99},{"e":1.77,"s":1.82},{"e":2.05,"s":1.86},{"e":1.82,"s":1.68},{"e":2.10,"s":1.74},{"e":1.87,"s":1.58},{"e":2.14,"s":1.62},{"e":1.92,"s":1.47},{"e":2.20,"s":1.55},
      {"e":1.96,"s":1.36},{"e":2.25,"s":1.46},{"e":2.03,"s":1.25},{"e":2.30,"s":1.36},{"e":2.08,"s":1.16},{"e":2.36,"s":1.26},{"e":2.15,"s":1.07},{"e":2.43,"s":1.18},{"e":2.22,"s":1.00},{"e":2.50,"s":1.10},
      {"e":2.30,"s":0.93},{"e":2.57,"s":1.04},{"e":2.38,"s":0.86},{"e":2.66,"s":0.98},{"e":2.47,"s":0.82},{"e":2.75,"s":0.92},{"e":2.56,"s":0.77},{"e":2.85,"s":0.87},{"e":2.68,"s":0.72},{"e":2.95,"s":0.82},
      {"e":2.78,"s":0.68},{"e":3.05,"s":0.78},{"e":2.92,"s":0.64},{"e":3.18,"s":0.74},{"e":3.05,"s":0.60},{"e":3.30,"s":0.70},{"e":3.18,"s":0.57},{"e":3.45,"s":0.66},{"e":3.30,"s":0.52},{"e":3.60,"s":0.62},
      {"e":3.45,"s":0.49},{"e":3.75,"s":0.59},{"e":3.62,"s":0.46},{"e":3.90,"s":0.57},{"e":3.78,"s":0.44},{"e":4.08,"s":0.55},{"e":3.95,"s":0.43},{"e":4.25,"s":0.54},{"e":4.15,"s":0.42},{"e":4.42,"s":0.52},
      {"e":4.35,"s":0.41},{"e":4.62,"s":0.50},{"e":4.55,"s":0.39},{"e":4.85,"s":0.48},{"e":4.75,"s":0.38},{"e":5.05,"s":0.47},{"e":4.98,"s":0.37},{"e":5.28,"s":0.45},{"e":5.20,"s":0.35},{"e":5.50,"s":0.44},
      {"e":5.42,"s":0.35},{"e":5.75,"s":0.43},{"e":5.65,"s":0.33},{"e":6.00,"s":0.42},{"e":5.90,"s":0.33},{"e":6.25,"s":0.41},{"e":6.15,"s":0.32},{"e":6.50,"s":0.40},{"e":6.42,"s":0.31},{"e":6.80,"s":0.39},
      {"e":6.70,"s":0.31},{"e":7.10,"s":0.38},{"e":7.00,"s":0.29},{"e":7.40,"s":0.37},{"e":7.30,"s":0.30},{"e":7.70,"s":0.35},{"e":7.62,"s":0.30},{"e":8.00,"s":0.35},{"e":7.95,"s":0.30},{"e":8.30,"s":0.34},
      {"e":8.20,"s":0.29},{"e":8.62,"s":0.33},{"e":8.50,"s":0.29},{"e":8.82,"s":0.32},{"e":8.80,"s":0.29},{"e":9.02,"s":0.31},
      {"e":1.44,"s":3.27},{"e":1.57,"s":3.31},{"e":1.50,"s":3.18},{"e":1.60,"s":3.06},{"e":1.47,"s":3.04},{"e":1.55,"s":2.99},{"e":1.65,"s":2.96},{"e":1.43,"s":2.92},{"e":1.59,"s":2.87},{"e":1.69,"s":2.86},
      {"e":1.48,"s":2.82},{"e":1.63,"s":2.79},{"e":1.53,"s":2.74},{"e":1.68,"s":2.73},{"e":1.45,"s":2.71},{"e":1.58,"s":2.66},{"e":1.73,"s":2.64},{"e":1.50,"s":2.62},{"e":1.64,"s":2.56},{"e":1.78,"s":2.53},
      {"e":1.56,"s":2.52},{"e":1.69,"s":2.47},{"e":1.81,"s":2.42},{"e":1.61,"s":2.41},{"e":1.74,"s":2.38},{"e":1.84,"s":2.30},{"e":1.66,"s":2.31},{"e":1.79,"s":2.25},{"e":1.71,"s":2.18},{"e":1.85,"s":2.18},
      {"e":1.77,"s":2.11},{"e":1.91,"s":2.06},{"e":1.81,"s":2.03},{"e":1.89,"s":1.98},{"e":1.80,"s":1.92},{"e":1.94,"s":1.89},{"e":1.85,"s":1.85},{"e":1.98,"s":1.80},{"e":1.89,"s":1.77},{"e":2.01,"s":1.73},
      {"e":1.91,"s":1.69},{"e":2.05,"s":1.65},{"e":1.95,"s":1.62},{"e":2.09,"s":1.58},{"e":1.98,"s":1.56},{"e":2.12,"s":1.51},{"e":2.01,"s":1.48},{"e":2.16,"s":1.43},{"e":2.06,"s":1.41},{"e":2.20,"s":1.37},
      {"e":2.09,"s":1.34},{"e":2.23,"s":1.30},{"e":2.12,"s":1.28},{"e":2.27,"s":1.22},{"e":2.17,"s":1.20},{"e":2.31,"s":1.16},{"e":2.22,"s":1.14},{"e":2.37,"s":1.11},{"e":2.26,"s":1.09},{"e":2.42,"s":1.05},
      {"e":2.31,"s":1.02},{"e":2.47,"s":0.98},{"e":2.37,"s":0.96},{"e":2.53,"s":0.95},{"e":2.44,"s":0.90},{"e":2.60,"s":0.89},{"e":2.50,"s":0.86},{"e":2.66,"s":0.83},{"e":2.57,"s":0.80},{"e":2.73,"s":0.79},
      {"e":2.63,"s":0.76},{"e":2.82,"s":0.74},{"e":2.74,"s":0.71},{"e":2.92,"s":0.70},{"e":2.84,"s":0.68},{"e":3.02,"s":0.66},{"e":2.95,"s":0.63},{"e":3.13,"s":0.62},{"e":3.08,"s":0.60},{"e":3.24,"s":0.58},
      {"e":3.22,"s":0.56},{"e":3.38,"s":0.56},{"e":3.36,"s":0.54},{"e":3.52,"s":0.52},{"e":3.55,"s":0.50},{"e":3.68,"s":0.49},{"e":3.72,"s":0.51},{"e":3.85,"s":0.47},{"e":3.91,"s":0.50},{"e":4.05,"s":0.46},
      {"e":4.14,"s":0.48},{"e":4.28,"s":0.45},{"e":4.40,"s":0.46},{"e":4.52,"s":0.43},{"e":4.65,"s":0.44},{"e":4.78,"s":0.41},{"e":4.92,"s":0.42},{"e":5.05,"s":0.40},{"e":5.20,"s":0.41},{"e":5.35,"s":0.38},
      {"e":5.52,"s":0.39},{"e":5.70,"s":0.37}
    ],
    "cal1000": [
      {"e":2.62,"s":2.76},{"e":2.97,"s":1.61},{"e":3.31,"s":1.085},{"e":3.67,"s":0.845},{"e":4.20,"s":0.64},{"e":4.72,"s":0.533},{"e":5.42,"s":0.43},
      {"e":6.12,"s":0.363},{"e":6.99,"s":0.32},{"e":7.87,"s":0.29},{"e":8.73,"s":0.25},{"e":9.61,"s":0.245},{"e":10.49,"s":0.228}
    ],
    "cal950": [
      {"e":1.565,"s":2.73},{"e":1.92,"s":1.79},{"e":2.265,"s":1.14},{"e":2.79,"s":0.77},{"e":3.32,"s":0.62},{"e":3.85,"s":0.532},{"e":4.54,"s":0.418},
      {"e":5.24,"s":0.36},{"e":6.12,"s":0.328},{"e":6.99,"s":0.30},{"e":7.87,"s":0.276},{"e":8.73,"s":0.25},{"e":9.61,"s":0.245},{"e":10.49,"s":0.232}
    ]
  },
  "layer": [
    {
      "data": {"name": "etct1000"},
      "mark": {"type": "point", "filled": true, "opacity": 1, "size": 441, "strokeWidth": 0},
      "encoding": {
        "x": {"field": "e", "type": "quantitative", "scale": {"domain": [0, 11], "nice": false},
          "axis": {"orient": "bottom", "values": [0.5, 1, 1.5, 2.5, 3, 3.5, 4.5, 5, 5.5, 6.5, 7, 7.5, 8.5, 9, 9.5, 10.5], "tickSize": -18, "labels": false, "grid": false, "title": null}},
        "y": {"field": "s", "type": "quantitative", "scale": {"domain": [0, 5], "nice": false},
          "axis": {"orient": "left", "values": [0.1, 0.2, 0.3, 0.4, 0.6, 0.7, 0.8, 0.9, 1.1, 1.2, 1.3, 1.4, 1.6, 1.7, 1.8, 1.9, 2.1, 2.2, 2.3, 2.4, 2.6, 2.7, 2.8, 2.9, 3.1, 3.2, 3.3, 3.4, 3.6, 3.7, 3.8, 3.9, 4.1, 4.2, 4.3, 4.4, 4.6, 4.7, 4.8, 4.9], "tickSize": -25, "labels": false, "grid": false, "title": null}},
        "color": {"datum": "1000 mV, E-TCT", "type": "nominal", "title": null,
          "scale": {"domain": ["1000 mV, E-TCT", "950 mV, E-TCT", "1000 mV, calib. circuit", "950 mV, calib. circuit"], "range": ["#000000", "#ff0000", "#33ccff", "#000000"]}},
        "shape": {"datum": "1000 mV, E-TCT", "type": "nominal", "title": null,
          "scale": {"domain": ["1000 mV, E-TCT", "950 mV, E-TCT", "1000 mV, calib. circuit", "950 mV, calib. circuit"], "range": ["M-0.4,0A0.4,0.4,0,1,1,0.4,0A0.4,0.4,0,1,1,-0.4,0Z", "M-0.4,0A0.4,0.4,0,1,1,0.4,0A0.4,0.4,0,1,1,-0.4,0Z", "square", "circle"]}}
      }
    },
    {
      "data": {"name": "etct950"},
      "mark": {"type": "point", "filled": true, "opacity": 1, "size": 441, "strokeWidth": 0},
      "encoding": {
        "x": {"field": "e", "type": "quantitative", "scale": {"domain": [0, 11], "nice": false},
          "axis": {"orient": "bottom", "values": [0, 2, 4, 6, 8, 10], "tickSize": -36, "labelPadding": 47, "format": ".1~f", "grid": true,
            "title": "e [ke⁻]", "titleX": 1668, "titleY": 168, "titleAlign": "right", "titleBaseline": "alphabetic"}},
        "y": {"field": "s", "type": "quantitative", "scale": {"domain": [0, 5], "nice": false},
          "axis": {"orient": "left", "values": [0, 0.5, 1, 1.5, 2, 2.5, 3, 3.5, 4, 4.5, 5], "tickSize": -49, "labelPadding": 60, "format": ".1~f", "grid": true,
            "title": "σ [ns]", "titleX": -194, "titleY": -3, "titleAngle": 270, "titleAlign": "right", "titleBaseline": "alphabetic"}},
        "color": {"datum": "950 mV, E-TCT", "type": "nominal", "title": null},
        "shape": {"datum": "950 mV, E-TCT", "type": "nominal", "title": null}
      }
    },
    {
      "data": {"name": "cal1000"},
      "mark": {"type": "point", "filled": true, "opacity": 1, "size": 441, "strokeWidth": 0},
      "encoding": {
        "x": {"field": "e", "type": "quantitative", "axis": null},
        "y": {"field": "s", "type": "quantitative", "axis": null},
        "color": {"datum": "1000 mV, calib. circuit", "type": "nominal", "title": null},
        "shape": {"datum": "1000 mV, calib. circuit", "type": "nominal", "title": null}
      }
    },
    {
      "data": {"name": "cal950"},
      "mark": {"type": "point", "filled": true, "opacity": 1, "size": 441, "strokeWidth": 0},
      "encoding": {
        "x": {"field": "e", "type": "quantitative", "axis": null},
        "y": {"field": "s", "type": "quantitative", "axis": null},
        "color": {"datum": "950 mV, calib. circuit", "type": "nominal", "title": null},
        "shape": {"datum": "950 mV, calib. circuit", "type": "nominal", "title": null}
      }
    }
  ],
  "resolve": {"axis": {"x": "independent", "y": "independent"}},
  "config": {
    "font": "Liberation Sans",
    "view": {"stroke": "#000000", "strokeWidth": 3},
    "axis": {
      "domain": false,
      "ticks": true,
      "tickColor": "#000000",
      "tickWidth": 3,
      "labelFont": "Liberation Sans",
      "labelFontSize": 70,
      "labelColor": "#000000",
      "labelOverlap": false,
      "labelFlush": false,
      "titleFont": "Liberation Sans",
      "titleFontSize": 80,
      "titleFontWeight": "normal",
      "titleColor": "#000000",
      "gridColor": "#000000",
      "gridDash": [3, 8],
      "gridWidth": 3,
      "gridOpacity": 1
    },
    "legend": {
      "orient": "none",
      "legendX": 650,
      "legendY": 71,
      "direction": "vertical",
      "padding": 16,
      "strokeColor": "#000000",
      "strokeWidth": 2.5,
      "fillColor": "#ffffff",
      "labelFont": "Liberation Sans",
      "labelFontSize": 70,
      "labelColor": "#000000",
      "labelLimit": 2000,
      "rowPadding": 34,
      "symbolSize": 441,
      "symbolOffset": 74,
      "labelOffset": 88,
      "symbolStrokeWidth": 0,
      "symbolOpacity": 1
    }
  }
}
